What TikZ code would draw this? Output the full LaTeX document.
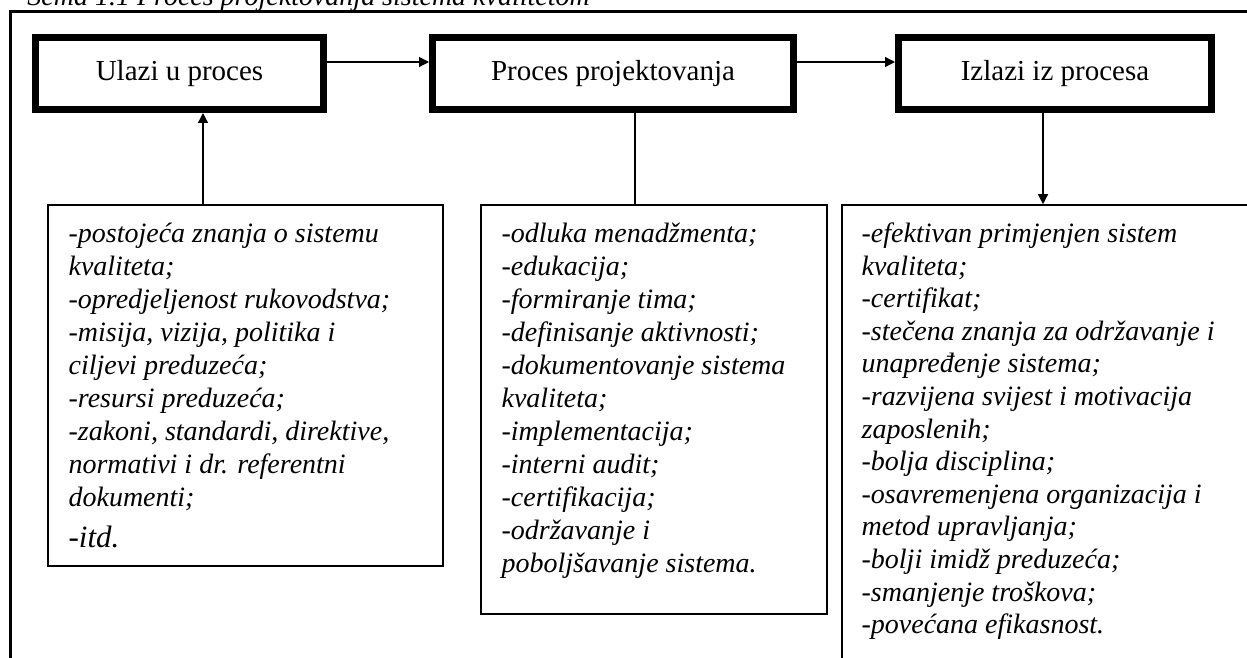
\documentclass[tikz,border=0pt]{standalone}
\usepackage{fontspec}
\setmainfont{Liberation Serif}
\usepackage{tikz}
\usetikzlibrary{arrows.meta, positioning}
\tikzset{
  titlebox/.style = {rectangle, draw=black, line width=3.5pt,
                     minimum height=36pt, inner sep=0pt, align=center,
                     font=\fontsize{14.5pt}{17pt}\selectfont},
  listbox/.style  = {rectangle, draw=black, line width=0.8pt, inner sep=0pt},
  listtext/.style = {anchor=north west, inner sep=0pt, align=left,
                     font=\fontsize{14pt}{16.5pt}\selectfont\itshape},
  caption/.style  = {anchor=base west, inner sep=0pt,
                     font=\fontsize{14pt}{16pt}\selectfont\itshape},
  arrow/.style    = {-{Triangle[length=5pt, width=5pt]}, line width=0.65pt},
  link/.style     = {line width=0.65pt},
  frame/.style    = {line width=1.35pt},
}

\begin{document}
\begin{tikzpicture}[x=0.5pt, y=-0.5pt]

    \clip (0,0) rectangle (1247,658);

    % ── Caption and outer frame ───────────────────────────────────
    \node[caption] (naslov) at (27,5.5)
      {Šema 1.1 Proces projektovanja sistema kvalitetom};
    \coordinate (okvirA) at (1270,11.3);
    \coordinate (okvirB) at (10.7,11.3);
    \coordinate (okvirC) at (10.7,680);
    \draw[frame] (okvirA) -- (okvirB) -- (okvirC);

    % ── Top row: process blocks ───────────────────────────────────
    \node[titlebox, minimum width=144pt] (ulazi) at (179.5,73.5)
      {Ulazi u proces};
    \node[titlebox, minimum width=180.5pt] (proces) at (613,73.5)
      {Proces projektovanja};
    \node[titlebox, minimum width=156.5pt] (izlazi) at (1055,73.5)
      {Izlazi iz procesa};

    % ── Bottom row: lists ─────────────────────────────────────────
    \node[listbox, minimum width=197.5pt, minimum height=180.5pt]
      (lista1) at (245.5,385.5) {};
    \node[listbox, minimum width=173pt, minimum height=204.5pt]
      (lista2) at (654,409.5) {};
    \node[listbox, minimum width=214pt, minimum height=247.5pt]
      (lista3) at (1056,452.5) {};

    \node[listtext] (tekst1) at ([shift={(21,15)}]lista1.north west)
      {\strut-postojeća znanja o sistemu\\
       kvaliteta;\\
       -opredjeljenost rukovodstva;\\
       -misija, vizija, politika i\\
       ciljevi preduzeća;\\
       -resursi preduzeća;\\
       -zakoni, standardi, direktive,\\
       normativi i dr. referentni\\
       dokumenti;\\[4pt]
       {\fontsize{15.5pt}{16.5pt}\selectfont -itd.}};

    \node[listtext] (tekst2) at ([shift={(21,15)}]lista2.north west)
      {\strut-odluka menadžmenta;\\
       -edukacija;\\
       -formiranje tima;\\
       -definisanje aktivnosti;\\
       -dokumentovanje sistema\\
       kvaliteta;\\
       -implementacija;\\
       -interni audit;\\
       -certifikacija;\\
       -održavanje i\\
       poboljšavanje sistema.};

    \node[listtext, font=\fontsize{14pt}{16.3pt}\selectfont\itshape]
      (tekst3) at ([shift={(20,15)}]lista3.north west)
      {\strut-efektivan primjenjen sistem\\
       kvaliteta;\\
       -certifikat;\\
       -stečena znanja za održavanje i\\
       unapređenje sistema;\\
       -razvijena svijest i motivacija\\
       zaposlenih;\\
       -bolja disciplina;\\
       -osavremenjena organizacija i\\
       metod upravljanja;\\
       -bolji imidž preduzeća;\\
       -smanjenje troškova;\\
       -povećana efikasnost.};

    % ── Arrows ────────────────────────────────────────────────────
    \draw[arrow] ([yshift=5.75pt]ulazi.east) -- ([yshift=5.75pt]proces.west);
    \draw[arrow] ([yshift=5.75pt]proces.east) -- ([yshift=5.75pt]izlazi.west);
    \draw[arrow] ([xshift=-21.25pt]lista1.north)
                 -- ([xshift=-21.25pt]lista1.north |- ulazi.south);
    \draw[link]  ([xshift=11pt]proces.south)
                 -- ([xshift=11pt]proces.south |- lista2.north);
    \draw[arrow] ([xshift=-6pt]izlazi.south)
                 -- ([xshift=-6pt]izlazi.south |- lista3.north);

\end{tikzpicture}
\end{document}
